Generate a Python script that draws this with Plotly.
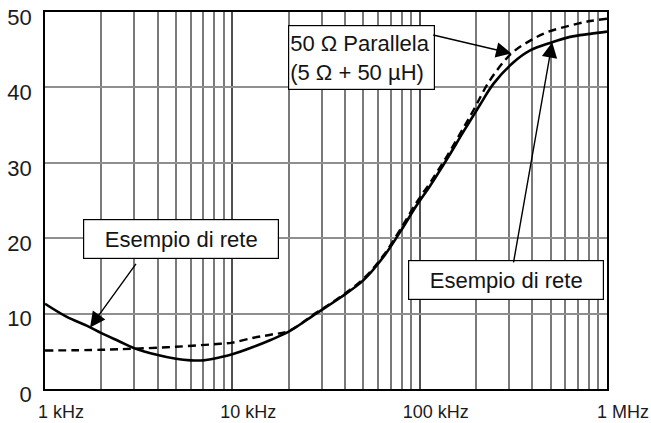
import numpy as np
import plotly.graph_objects as go

# Frequency response data (frequency in Hz, value on the 0-50 scale)
freq_rete = [1e3, 1.3e3, 1.7e3, 2e3, 2.5e3, 3e3, 4e3, 5e3, 6e3, 7e3, 8.6e3, 10e3,
             13e3, 16e3, 20e3, 28e3, 37.6e3, 50e3, 64e3, 79e3, 96e3, 114e3,
             140e3, 171e3, 210e3, 248e3, 316e3, 389e3, 497e3, 635e3, 813e3, 1e6]
val_rete = [11.3, 9.6, 8.3, 7.4, 6.3, 5.4, 4.5, 4.0, 3.8, 3.8, 4.2, 4.6,
            5.6, 6.5, 7.6, 10.0, 12.1, 14.4, 17.5, 20.9, 24.3, 27.0,
            30.5, 34.1, 37.7, 40.5, 43.3, 44.9, 45.9, 46.7, 47.1, 47.4]

freq_par = [1e3, 2e3, 3e3, 5e3, 8.6e3, 10e3, 13e3, 16e3, 20e3, 28e3, 37.6e3, 50e3,
            64e3, 79e3, 96e3, 114e3, 140e3, 171e3, 194e3, 238e3, 309e3, 389e3,
            477e3, 635e3, 813e3, 1e6]
val_par = [5.1, 5.2, 5.35, 5.6, 6.0, 6.15, 6.8, 7.2, 7.7, 10.1, 12.2, 14.6,
           17.7, 21.2, 24.7, 27.4, 30.9, 34.6, 37.0, 41.0, 44.5, 46.2,
           47.3, 48.2, 48.8, 49.1]

tick_vals = [1e3, 1e4, 1e5, 1e6]
tick_text = ["1 kHz", "10 kHz", "100 kHz", "1 MHz"]
minor_vals = [m * d for d in (1e3, 1e4, 1e5) for m in range(2, 10)]

label_rete = "Esempio di rete"
label_par = "50 Ω Parallela<br>(5 Ω + 50 µH)"


def on_curve(f, fx, fy):
    return float(np.interp(np.log10(f), np.log10(fx), fy))


fig = go.Figure()
fig.add_trace(go.Scatter(x=freq_par, y=val_par, mode="lines", line_shape="spline",
                         line=dict(color="black", width=2.4, dash="8px,5px"),
                         showlegend=False))
fig.add_trace(go.Scatter(x=freq_rete, y=val_rete, mode="lines", line_shape="spline",
                         line=dict(color="black", width=2.6), showlegend=False))

box_font = dict(family="Liberation Sans, Arial, sans-serif", size=22, color="#141414")

# Text boxes
fig.add_annotation(xref="paper", yref="paper", x=0.242, y=0.398, text=label_rete,
                   showarrow=False, font=box_font, bgcolor="white",
                   bordercolor="black", borderwidth=1.2, borderpad=1,
                   width=192, height=36, xanchor="center", yanchor="middle")
fig.add_annotation(xref="paper", yref="paper", x=0.820, y=0.289, text=label_rete,
                   showarrow=False, font=box_font, bgcolor="white",
                   bordercolor="black", borderwidth=1.2, borderpad=1,
                   width=192, height=36, xanchor="center", yanchor="middle")
fig.add_annotation(xref="paper", yref="paper", x=0.563, y=0.879, text=label_par,
                   showarrow=False, font=box_font, bgcolor="white", align="left",
                   bordercolor="black", borderwidth=1.2, borderpad=1,
                   width=143, height=61, xanchor="center", yanchor="middle")

# Arrows pointing at the curves
arrows = [
    (3.1e3, 16.8, 1.74e3, freq_rete, val_rete),
    (116e3, 47.0, 309e3, freq_par, val_par),
    (316e3, 16.6, 510e3, freq_rete, val_rete),
]
for fx0, fy0, ftip, cx, cy in arrows:
    fig.add_annotation(x=np.log10(ftip), y=on_curve(ftip, cx, cy),
                       ax=np.log10(fx0), ay=fy0, xref="x", yref="y",
                       axref="x", ayref="y", text="", showarrow=True,
                       arrowhead=2, arrowsize=2.2, arrowwidth=1.4,
                       arrowcolor="black", standoff=0, startstandoff=0)

fig.update_layout(
    width=651, height=423,
    margin=dict(l=45, r=44, t=12, b=34),
    plot_bgcolor="white", paper_bgcolor="white",
    font=dict(family="Liberation Sans, Arial, sans-serif", color="#1b1b1b"),
)
fig.update_xaxes(
    type="log", range=[3, 6], tickmode="array", tickvals=tick_vals, ticktext=tick_text,
    tickfont=dict(size=18), ticks="", ticklabelshift=16, ticklabelstandoff=6,
    automargin=False, ticklabeloverflow="allow",
    showgrid=True, gridcolor="#505050", gridwidth=1.5,
    minor=dict(tickmode="array", tickvals=minor_vals, showgrid=True,
               gridcolor="#7a7a7a", gridwidth=1.5, ticks=""),
    showline=True, linecolor="black", linewidth=1.5, mirror=True, zeroline=False,
)
fig.update_yaxes(
    range=[0, 50], tickmode="array", tickvals=[0, 10, 20, 30, 40, 50],
    tickfont=dict(size=22), ticks="", ticklabelshift=5, ticklabelstandoff=7,
    automargin=False, ticklabeloverflow="allow",
    showgrid=True, gridcolor="#8f8f8f", gridwidth=1.5,
    showline=True, linecolor="black", linewidth=1.5, mirror=True, zeroline=False,
)

fig.write_html("out.html")
